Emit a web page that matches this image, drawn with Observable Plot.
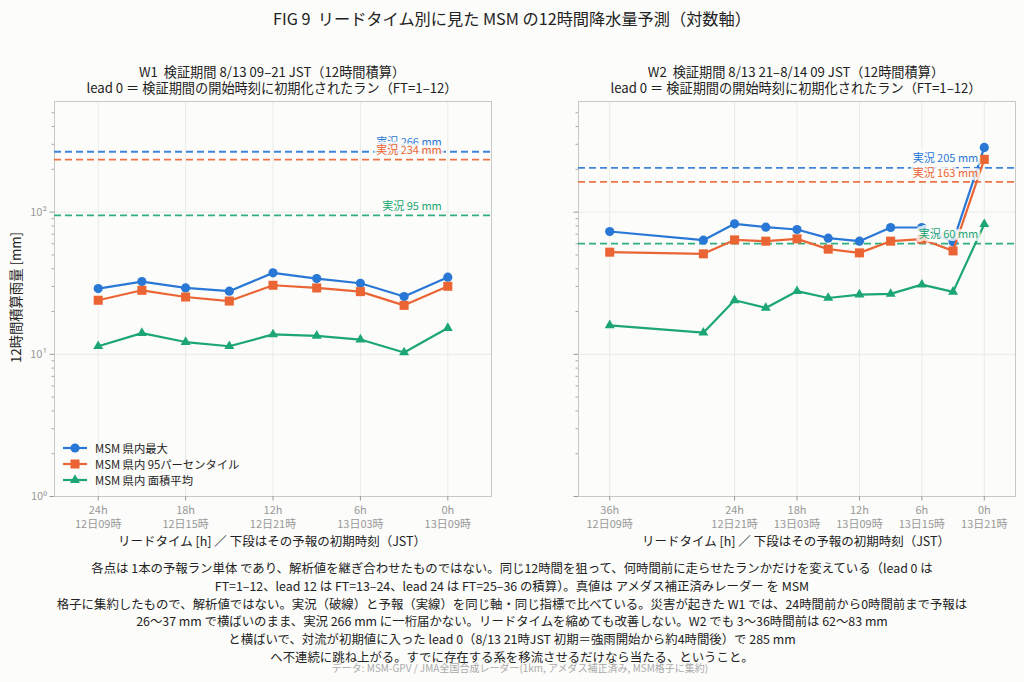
<!DOCTYPE html>
<html>
<head>
<meta charset="utf-8">
<script src="https://cdn.jsdelivr.net/npm/d3@7"></script>
<script src="https://cdn.jsdelivr.net/npm/@observablehq/plot@0.6"></script>
<style>
  html, body { margin: 0; padding: 0; background: #fcfcfa; }
  body { width: 1024px; height: 682px; overflow: hidden; }
  #root { position: relative; width: 1024px; height: 682px; font-family: 'Noto Sans CJK JP', 'Noto Sans', sans-serif; color: #222; }
  .abs { position: absolute; white-space: pre; }
  .title { top: 6px; left: 0; width: 1024px; text-align: center; font-size: 16.2px; }
  .sub { font-size: 13.2px; text-align: center; line-height: 16px; }
  .xlab { font-size: 12.5px; text-align: center; }
  .ylab { font-size: 13.3px; text-align: center; }
  .cap { left: 0; width: 1024px; text-align: center; font-size: 12.4px; line-height: 17.8px; }
  .src { left: 0; width: 1040px; text-align: center; font-size: 10px; color: #aaa; }
  .leg { font-size: 11.3px; display: flex; align-items: center; height: 16px; }
  .leg svg { margin-right: 8px; }
</style>
</head>
<body>
<div id="root"></div>
<script>
// ---------- data ----------
const SERIES_NAMES = ["MSM 県内最大", "MSM 県内 95パーセンタイル", "MSM 県内 面積平均"];
const SERIES_COLORS = ["#2a78d6", "#eb6534", "#1ba673"];
const SERIES_SYMBOLS = ["circle", "square", "triangle"];

const W1_LEADS = [24, 21, 18, 15, 12, 9, 6, 3, 0];
const W1_MAX  = [29.0, 32.5, 29.3, 27.8, 37.4, 34.1, 31.6, 25.5, 34.9];
const W1_P95  = [24.0, 28.2, 25.3, 23.7, 30.6, 29.3, 27.6, 22.1, 30.1];
const W1_MEAN = [11.4, 14.1, 12.2, 11.4, 13.8, 13.5, 12.7, 10.3, 15.3];
const W1_OBS  = [266, 234, 95];

const W2_LEADS = [36, 27, 24, 21, 18, 15, 12, 9, 6, 3, 0];
const W2_MAX  = [73.1, 63.5, 82.8, 78.4, 75.5, 65.6, 62.5, 78.0, 78.0, 61.8, 285];
const W2_P95  = [52.3, 50.9, 63.8, 62.5, 64.9, 54.9, 51.7, 62.5, 64.5, 53.4, 235];
const W2_MEAN = [16.0, 14.2, 24.0, 21.2, 27.8, 24.9, 26.3, 26.6, 30.9, 27.5, 82.3];
const W2_OBS  = [205, 163, 60];

const W1_TICK_LEADS = [24, 18, 12, 6, 0];
const W1_TICK_INIT  = ["12日09時", "12日15時", "12日21時", "13日03時", "13日09時"];
const W2_TICK_LEADS = [36, 24, 18, 12, 6, 0];
const W2_TICK_INIT  = ["12日09時", "12日21時", "13日03時", "13日09時", "13日15時", "13日21時"];

const Y_MAJOR = [1, 10, 100];
const Y_MAJOR_LABELS = ["10⁰", "10¹", "10²"];
const Y_MINOR = [2, 3, 4, 5, 6, 7, 8, 9, 20, 30, 40, 50, 60, 70, 80, 90, 200, 300, 400, 500];
const Y_DOMAIN = [1, 600];

const TITLE = "FIG 9  リードタイム別に見た MSM の12時間降水量予測（対数軸）";
const W1_SUB = ["W1  検証期間 8/13 09–21 JST（12時間積算）", "lead 0 ＝ 検証期間の開始時刻に初期化されたラン（FT=1–12）"];
const W2_SUB = ["W2  検証期間 8/13 21–8/14 09 JST（12時間積算）", "lead 0 ＝ 検証期間の開始時刻に初期化されたラン（FT=1–12）"];
const X_LABEL = "リードタイム [h] ／ 下段はその予報の初期時刻（JST）";
const Y_LABEL = "12時間積算雨量 [mm]";
const CAPTION = [
  "各点は 1本の予報ラン単体 であり、解析値を継ぎ合わせたものではない。同じ12時間を狙って、何時間前に走らせたランかだけを変えている（lead 0 は",
  "FT=1–12、lead 12 は FT=13–24、lead 24 は FT=25–36 の積算）。真値は アメダス補正済みレーダー を MSM",
  "格子に集約したもので、解析値ではない。実況（破線）と予報（実線）を同じ軸・同じ指標で比べている。災害が起きた W1 では、24時間前から0時間前まで予報は",
  "26〜37 mm で横ばいのまま、実況 266 mm に一桁届かない。リードタイムを縮めても改善しない。W2 でも 3〜36時間前は 62〜83 mm",
  "と横ばいで、対流が初期値に入った lead 0（8/13 21時JST 初期＝強雨開始から約4時間後）で 285 mm",
  "へ不連続に跳ね上がる。すでに存在する系を移流させるだけなら当たる、ということ。"
];
const SOURCE = "データ: MSM-GPV / JMA全国合成レーダー(1km, アメダス補正済み, MSM格子に集約)";

// ---------- helpers ----------
const FONT = "'Noto Sans CJK JP', 'Noto Sans', sans-serif";
const BG = "#fcfcfa";
const SYMBOL_R = [4.6, 5.1, 3.7];

function panel(cfg) {
  const seriesVals = [cfg.max, cfg.p95, cfg.mean];
  const obsRows = cfg.obs.map((v, i) => ({lead: 0, v, color: SERIES_COLORS[i], label: `実況 ${v} mm`}));
  const marks = [
    Plot.gridX(cfg.tickLeads, {stroke: "#ebebe6", strokeOpacity: 1}),
    Plot.gridY(Y_MAJOR, {stroke: "#ebebe6", strokeOpacity: 1}),
    Plot.frame({stroke: "#c9c9c1"}),
    Plot.axisY(Y_MINOR, {tickSize: 2.5, tickFormat: () => "", label: null, color: "#aaa"}),
    Plot.axisY(Y_MAJOR, {tickSize: 4.5, tickPadding: 3, label: null, color: "#999", fontSize: 11,
      tickFormat: cfg.showY ? (d => Y_MAJOR_LABELS[Y_MAJOR.indexOf(d)]) : (() => "")}),
    Plot.axisX(cfg.tickLeads, {tickSize: 4.5, tickPadding: 4, label: null, color: "#999", fontSize: 11, lineHeight: 1.2,
      tickFormat: d => `${d}h\n${cfg.tickInit[cfg.tickLeads.indexOf(d)]}`}),
    Plot.ruleY(obsRows, {y: "v", stroke: "color", strokeDasharray: "7,4", strokeWidth: 1.8, strokeOpacity: 0.9})
  ];
  seriesVals.forEach((vals, i) => {
    const rows = cfg.leads.map((l, j) => ({lead: l, v: vals[j]}));
    marks.push(Plot.line(rows, {x: "lead", y: "v", stroke: SERIES_COLORS[i], strokeWidth: 2.2}));
    marks.push(Plot.dot(rows, {x: "lead", y: "v", symbol: SERIES_SYMBOLS[i], fill: SERIES_COLORS[i], r: SYMBOL_R[i], stroke: null}));
  });
  marks.push(Plot.text(obsRows, {x: "lead", y: "v", text: "label", fill: "color", textAnchor: "end", dx: -6, dy: -9,
    fontSize: 11, stroke: BG, strokeWidth: 6, strokeOpacity: 0.8, paintOrder: "stroke"}));
  return Plot.plot({
    width: cfg.width, height: 460,
    marginTop: 6, marginBottom: 59, marginLeft: cfg.marginLeft, marginRight: cfg.marginRight,
    style: {background: "transparent", fontFamily: FONT, fontSize: "11px", overflow: "visible"},
    color: {type: "identity"},
    x: {domain: cfg.xDomain, label: null},
    y: {type: "log", domain: Y_DOMAIN, label: null},
    marks
  });
}

function place(el, left, top) {
  el.style.position = "absolute";
  el.style.left = left + "px";
  el.style.top = top + "px";
  return el;
}
function div(cls, text, styles) {
  const d = document.createElement("div");
  d.className = "abs " + cls;
  d.textContent = text;
  Object.assign(d.style, styles || {});
  return d;
}

const root = document.getElementById("root");
root.appendChild(div("title", TITLE));

// subtitles
[[W1_SUB, 272], [W2_SUB, 796]].forEach(([lines, cx]) => {
  root.appendChild(div("sub", lines.join("\n"), {left: (cx - 300) + "px", width: "600px", top: "64px"}));
});

// panels
const p1 = panel({leads: W1_LEADS, max: W1_MAX, p95: W1_P95, mean: W1_MEAN, obs: W1_OBS,
  tickLeads: W1_TICK_LEADS, tickInit: W1_TICK_INIT, xDomain: [27, -3],
  width: 510, marginLeft: 54, marginRight: 19, showY: true});
root.appendChild(place(p1, 0, 95));
const p2 = panel({leads: W2_LEADS, max: W2_MAX, p95: W2_P95, mean: W2_MEAN, obs: W2_OBS,
  tickLeads: W2_TICK_LEADS, tickInit: W2_TICK_INIT, xDomain: [39, -3],
  width: 504, marginLeft: 58, marginRight: 9, showY: false});
root.appendChild(place(p2, 520, 95));

// axis labels
root.appendChild(div("xlab", X_LABEL, {left: (272 - 250) + "px", width: "500px", top: "531px"}));
root.appendChild(div("xlab", X_LABEL, {left: (796 - 250) + "px", width: "500px", top: "531px"}));
root.appendChild(div("ylab", Y_LABEL, {left: (15 - 100) + "px", width: "200px", top: (298 - 10) + "px", transform: "rotate(-90deg)"}));

// legend
const leg = document.createElement("div");
leg.className = "abs";
place(leg, 63, 440);
SERIES_NAMES.forEach((name, i) => {
  const row = document.createElement("div");
  row.className = "leg";
  const type = SERIES_SYMBOLS[i] === "circle" ? d3.symbolCircle : SERIES_SYMBOLS[i] === "square" ? d3.symbolSquare : d3.symbolTriangle;
  const sym = d3.symbol(type, Math.PI * SYMBOL_R[i] * SYMBOL_R[i])();
  row.innerHTML = `<svg width="24" height="14"><line x1="0" x2="24" y1="7" y2="7" stroke="${SERIES_COLORS[i]}" stroke-width="2.2"/>` +
    `<path transform="translate(12,7)" d="${sym}" fill="${SERIES_COLORS[i]}"/></svg><span>${name}</span>`;
  leg.appendChild(row);
});
root.appendChild(leg);

// caption
CAPTION.forEach((line, i) => {
  root.appendChild(div("cap", line, {top: (560 + i * 17.8) + "px"}));
});
root.appendChild(div("src", SOURCE, {top: "660px"}));
</script>
</body>
</html>
